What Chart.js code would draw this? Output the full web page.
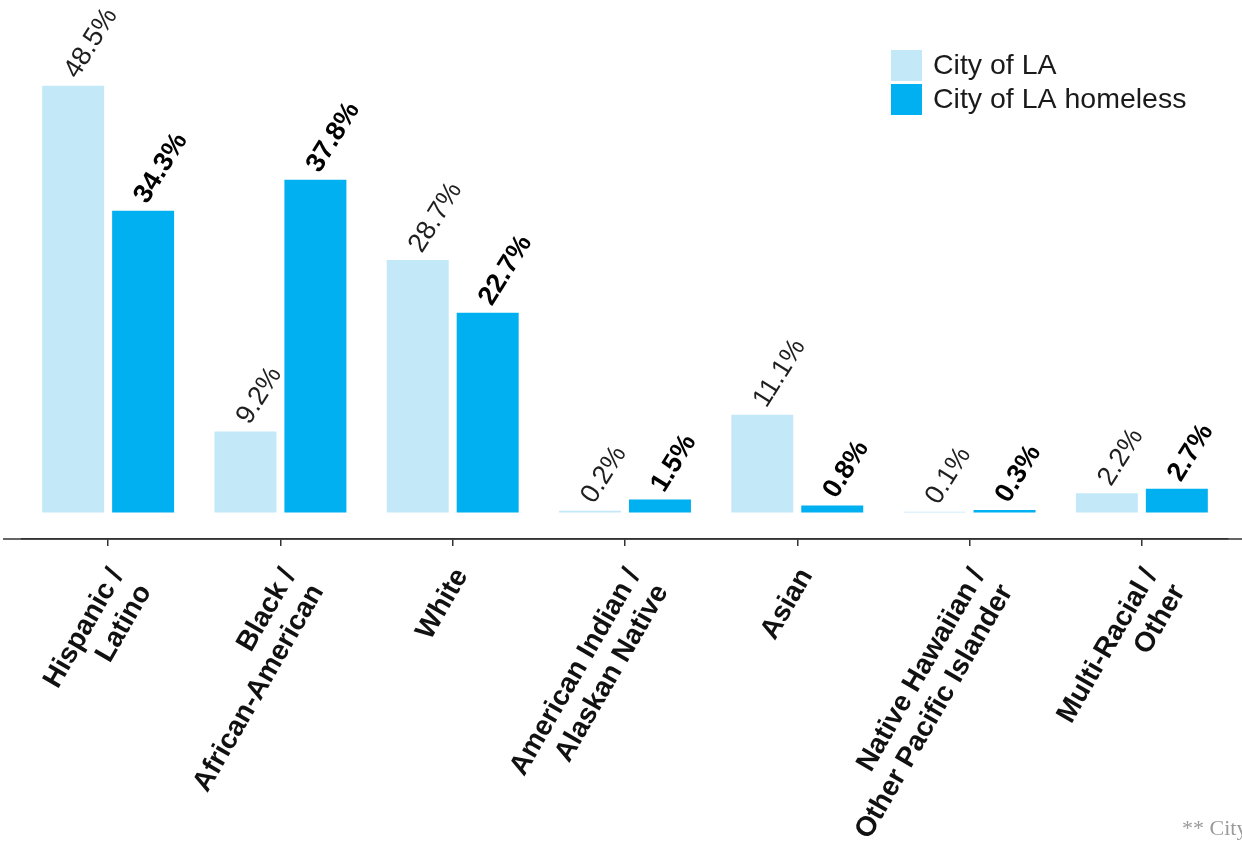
<!DOCTYPE html>
<html>
<head>
<meta charset="utf-8">
<script src="https://cdn.jsdelivr.net/npm/chart.js@4"></script>
<style>
html, body { margin: 0; padding: 0; background: #ffffff; }
#wrap { width: 1242px; height: 850px; position: relative; }
</style>
</head>
<body>
<div id="wrap"><canvas id="c" width="1242" height="850"></canvas></div>
<script>
// ---- data ----
const categories = [
  ["Hispanic /", "Latino"],
  ["Black /", "African-American"],
  ["White"],
  ["American Indian /", "Alaskan Native"],
  ["Asian"],
  ["Native Hawaiian /", "Other Pacific Islander"],
  ["Multi-Racial /", "Other"]
];
const seriesNames = ["City of LA", "City of LA homeless"];
const cityOfLA = [48.5, 9.2, 28.7, 0.2, 11.1, 0.1, 2.2];
const cityOfLAHomeless = [34.3, 37.8, 22.7, 1.5, 0.8, 0.3, 2.7];
const seriesColors = ["#C3E9F9", "#00B0F0"];
const footnote = "** City";

const SANS = '"Liberation Sans", Arial, sans-serif';

const valueLabels = {
  id: 'valueLabels',
  afterDatasetsDraw(chart) {
    const ctx = chart.ctx;
    chart.data.datasets.forEach((ds, i) => {
      const meta = chart.getDatasetMeta(i);
      meta.data.forEach((bar, j) => {
        ctx.save();
        ctx.translate(bar.x + 4, bar.y - 6);
        ctx.rotate(-58 * Math.PI / 180);
        ctx.font = (i === 1 ? 'bold ' : '') + '27px ' + SANS;
        ctx.fillStyle = i === 1 ? '#000000' : '#1f1f1f';
        ctx.textAlign = 'left';
        ctx.textBaseline = 'alphabetic';
        ctx.fillText(ds.data[j].toFixed(1) + '%', 0, 0);
        ctx.restore();
      });
    });
  }
};

const extras = {
  id: 'extras',
  afterDraw(chart) {
    const ctx = chart.ctx;
    const y = chart.chartArea.bottom;
    ctx.save();
    ctx.strokeStyle = '#333333';
    ctx.lineWidth = 1.5;
    ctx.beginPath();
    ctx.moveTo(3, y);
    ctx.lineTo(chart.width, y);
    ctx.stroke();
    // legend
    chart.data.datasets.forEach((ds, i) => {
      const top = 50 + i * 34;
      ctx.fillStyle = ds.backgroundColor;
      ctx.fillRect(891, top, 31, 31);
      ctx.fillStyle = '#1a1a1a';
      ctx.font = '28.5px ' + SANS;
      ctx.textAlign = 'left';
      ctx.textBaseline = 'middle';
      ctx.fillText(ds.label, 933, top + 16);
    });
    // footnote
    ctx.fillStyle = '#9a9a9a';
    ctx.font = '22px "Liberation Serif", serif';
    ctx.textAlign = 'left';
    ctx.textBaseline = 'alphabetic';
    ctx.fillText(footnote, 1182, 835);
    ctx.restore();
  }
};

new Chart(document.getElementById('c'), {
  type: 'bar',
  data: {
    labels: categories,
    datasets: [
      { label: seriesNames[0], data: cityOfLA, backgroundColor: seriesColors[0], borderWidth: 0,
        categoryPercentage: 0.812, barPercentage: 0.886 },
      { label: seriesNames[1], data: cityOfLAHomeless, backgroundColor: seriesColors[1], borderWidth: 0,
        categoryPercentage: 0.812, barPercentage: 0.886 }
    ]
  },
  options: {
    responsive: false,
    animation: false,
    devicePixelRatio: 1,
    layout: { padding: { left: 22, right: 14, top: 2, bottom: 0 } },
    plugins: { legend: { display: false }, tooltip: { enabled: false } },
    scales: {
      x: {
        grid: { display: true, drawOnChartArea: false, drawTicks: true, tickLength: 7,
                color: '#333333', lineWidth: 1.5, offset: false },
        border: { display: true, color: '#333333', width: 1.5 },
        ticks: {
          autoSkip: false, minRotation: 60, maxRotation: 60, padding: 17, labelOffset: 9,
          color: '#111111',
          font: { family: SANS, size: 28, weight: 'bold', lineHeight: 1.15 }
        },
        afterFit(scale) { scale.height = 311; }
      },
      y: { display: false, min: -3, max: 58 }
    }
  },
  plugins: [valueLabels, extras]
});
</script>
</body>
</html>
